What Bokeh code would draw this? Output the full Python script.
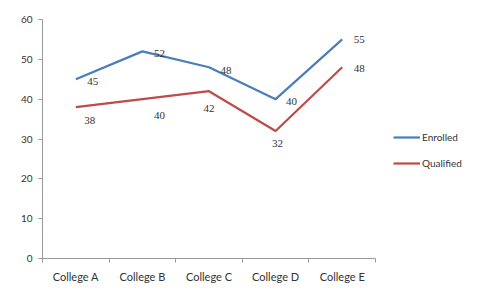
from bokeh.plotting import figure
from bokeh.models import ColumnDataSource, FixedTicker, Legend, LegendItem, Range1d, LabelSet
from bokeh.embed import file_html
from bokeh.resources import INLINE

categories = ["College A", "College B", "College C", "College D", "College E"]
enrolled = [45, 52, 48, 40, 55]
qualified = [38, 40, 42, 32, 48]
y_ticks = [0, 10, 20, 30, 40, 50, 60]

# label offsets (pixels), style only
enr_dx = [17, 17, 17, 16, 17]
enr_dy = [-2, -2, -3, -2, 0]
qua_dx = [14, 17, 0, 2, 17]
qua_dy = [-13, -16, -17, -12, -1]

n = len(categories)
xs = list(range(1, n + 1))
src = ColumnDataSource(dict(x=xs, enr=enrolled, qua=qualified,
                            enr_t=[str(v) for v in enrolled], qua_t=[str(v) for v in qualified],
                            edx=enr_dx, edy=enr_dy, qdx=qua_dx, qdy=qua_dy))

plot_w, legend_w = 333, 97
p = figure(frame_width=plot_w + legend_w, frame_height=239, output_backend="svg", toolbar_location=None,
           x_range=Range1d(0.5, n + 0.5 + n * legend_w / plot_w), y_range=Range1d(0, 60),
           min_border_left=42, min_border_top=19, min_border_bottom=24, min_border_right=0)
p.outline_line_color = None
p.grid.grid_line_color = None
p.background_fill_color = "white"
p.border_fill_color = "white"

r1 = p.line("x", "enr", source=src, line_color="#4A7EBB", line_width=2.2)
r2 = p.line("x", "qua", source=src, line_color="#BE4B48", line_width=2.2)

font = "Lato"
p.add_layout(LabelSet(x="x", y="enr", text="enr_t", source=src, x_offset="edx", y_offset="edy",
                      text_font=font, text_font_size="11px", text_color="#333333",
                      text_align="center", text_baseline="middle"))
p.add_layout(LabelSet(x="x", y="qua", text="qua_t", source=src, x_offset="qdx", y_offset="qdy",
                      text_font=font, text_font_size="11px", text_color="#333333",
                      text_align="center", text_baseline="middle"))

p.xaxis.bounds = (0.5, n + 0.5)
p.xaxis.ticker = FixedTicker(ticks=xs, minor_ticks=[x - 0.5 for x in xs] + [xs[-1] + 0.5])
p.xaxis.major_label_overrides = {x: c for x, c in zip(xs, categories)}
p.xaxis.major_tick_line_color = None
p.xaxis.minor_tick_in = 0
p.xaxis.minor_tick_out = 4
p.xaxis.minor_tick_line_color = "#999999"
p.xaxis.axis_line_color = "#999999"
p.xaxis.major_label_text_font = font
p.xaxis.major_label_text_font_size = "11px"
p.xaxis.major_label_text_color = "#333333"
p.xaxis.major_label_standoff = 5

p.yaxis.ticker = FixedTicker(ticks=y_ticks)
p.yaxis.minor_tick_line_color = None
p.yaxis.major_tick_in = 0
p.yaxis.major_tick_out = 4
p.yaxis.major_tick_line_color = "#999999"
p.yaxis.axis_line_color = "#999999"
p.yaxis.major_label_text_font = font
p.yaxis.major_label_text_font_size = "10px"
p.yaxis.major_label_text_color = "#333333"
p.yaxis.major_label_standoff = 6

legend = Legend(items=[LegendItem(label="Enrolled", renderers=[r1]),
                       LegendItem(label="Qualified", renderers=[r2])],
                location=(351, 88), orientation="vertical", border_line_color=None,
                background_fill_alpha=0, label_text_font=font, label_text_font_size="10px",
                label_text_color="#333333", glyph_width=27, glyph_height=14, label_height=14,
                spacing=12, padding=0, label_standoff=2, margin=0)
p.add_layout(legend, "center")

open("out.html", "w").write(file_html(p, INLINE))
